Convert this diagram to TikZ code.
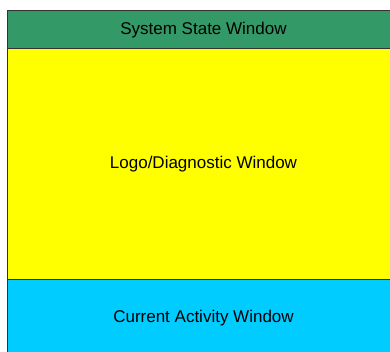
\documentclass[tikz,border=0pt]{standalone}
\usepackage{fontspec}
\setmainfont{Liberation Sans}
\definecolor{sysgreen}{HTML}{339966}
\definecolor{logoyellow}{HTML}{FFFF00}
\definecolor{actcyan}{HTML}{00CCFF}
\begin{document}
\begin{tikzpicture}[x=1bp,y=-1bp,
  band/.style={rectangle,draw=black!80,line width=0.9bp,inner sep=0pt,minimum width=392.5bp},
  lbl/.style={font=\fontsize{17bp}{20bp}\selectfont,text=black,inner sep=0pt}]
\useasboundingbox (0,0) rectangle (390,352);
\clip (0,0) rectangle (390,352);
\node[band,fill=sysgreen,minimum height=38bp] (sys) at (203.75,29) {};
\node[band,fill=logoyellow,minimum height=231bp] (logo) at (203.75,163.5) {};
\node[band,fill=actcyan,minimum height=83bp] (act) at (203.75,320.5) {};
\node[lbl] (systxt) at (203.5,30.5) {System State Window};
\node[lbl] (logotxt) at (203.5,164.5) {Logo/Diagnostic Window};
\node[lbl] (acttxt) at (203.5,318.5) {Current Activity Window};
\end{tikzpicture}
\end{document}
